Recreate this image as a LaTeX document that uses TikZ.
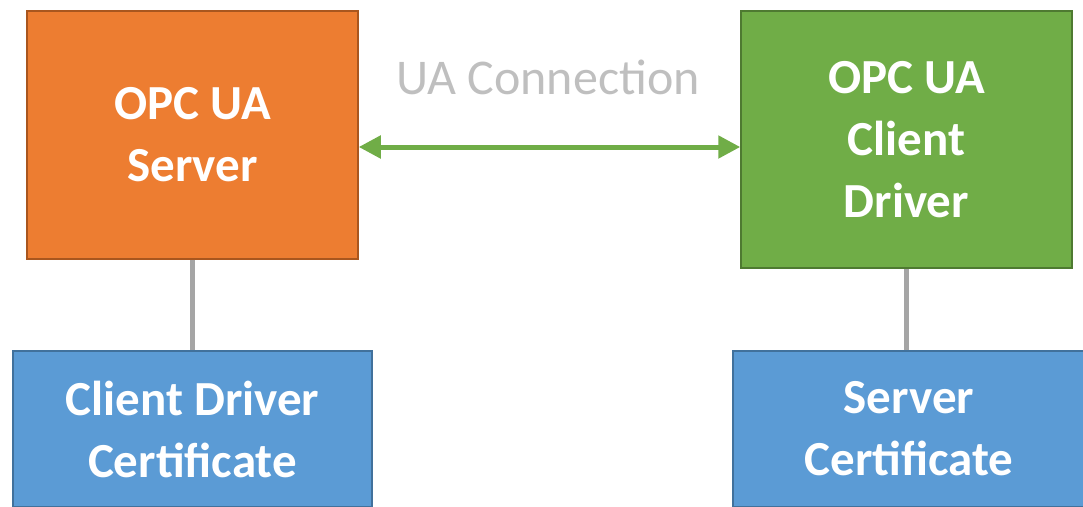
\documentclass[tikz,border=0pt]{standalone}
\usepackage{fontspec}
\setmainfont{Carlito}
\usetikzlibrary{arrows.meta}
\definecolor{srvorange}{HTML}{ED7D31}
\definecolor{srvedge}{HTML}{A9561E}
\definecolor{drvgreen}{HTML}{70AD47}
\definecolor{drvedge}{HTML}{4E7A31}
\definecolor{certblue}{HTML}{5B9BD5}
\definecolor{certedge}{HTML}{41719C}
\definecolor{linkgray}{HTML}{A5A5A5}
\definecolor{labelgray}{HTML}{BFBFBF}
\begin{document}
\begin{tikzpicture}
  [x=1pt,y=-1pt,
   box/.style={rectangle,draw,line width=1.5pt,text=white,align=center,
     font=\fontsize{49}{62}\selectfont\bfseries,inner sep=0pt},
   server/.style={box,fill=srvorange,draw=srvedge},
   driver/.style={box,fill=drvgreen,draw=drvedge},
   cert/.style={box,fill=certblue,draw=certedge}]
  \useasboundingbox (0,0) rectangle (1083,506);
  \node[server,minimum width=331pt,minimum height=248pt] (srv) at (192.5,135) {OPC UA\\Server};
  \node[driver,minimum width=331pt,minimum height=257pt] (drv) at (906.5,139.5) {OPC UA\\Client\\Driver};
  \node[cert,minimum width=359pt,minimum height=156pt] (scert) at (192.5,429) {Client Driver\\Certificate};
  \node[cert,minimum width=352pt,minimum height=156pt] (dcert) at (909,429) {Server\\Certificate};
  \node[text=labelgray,font=\fontsize{50}{54}\selectfont] (conn) at (548,77) {UA Connection};
  \foreach \from/\to in {srv/scert,drv/dcert}
    \draw[linkgray,line width=4.5pt] (\from) -- (\from |- \to.north);
  \draw[drvgreen,line width=5pt,{Triangle[length=22pt,width=22pt]}-{Triangle[length=22pt,width=22pt]}]
    ([yshift=-12pt]srv.east) -- ([yshift=-7.5pt]drv.west);
\end{tikzpicture}
\end{document}
